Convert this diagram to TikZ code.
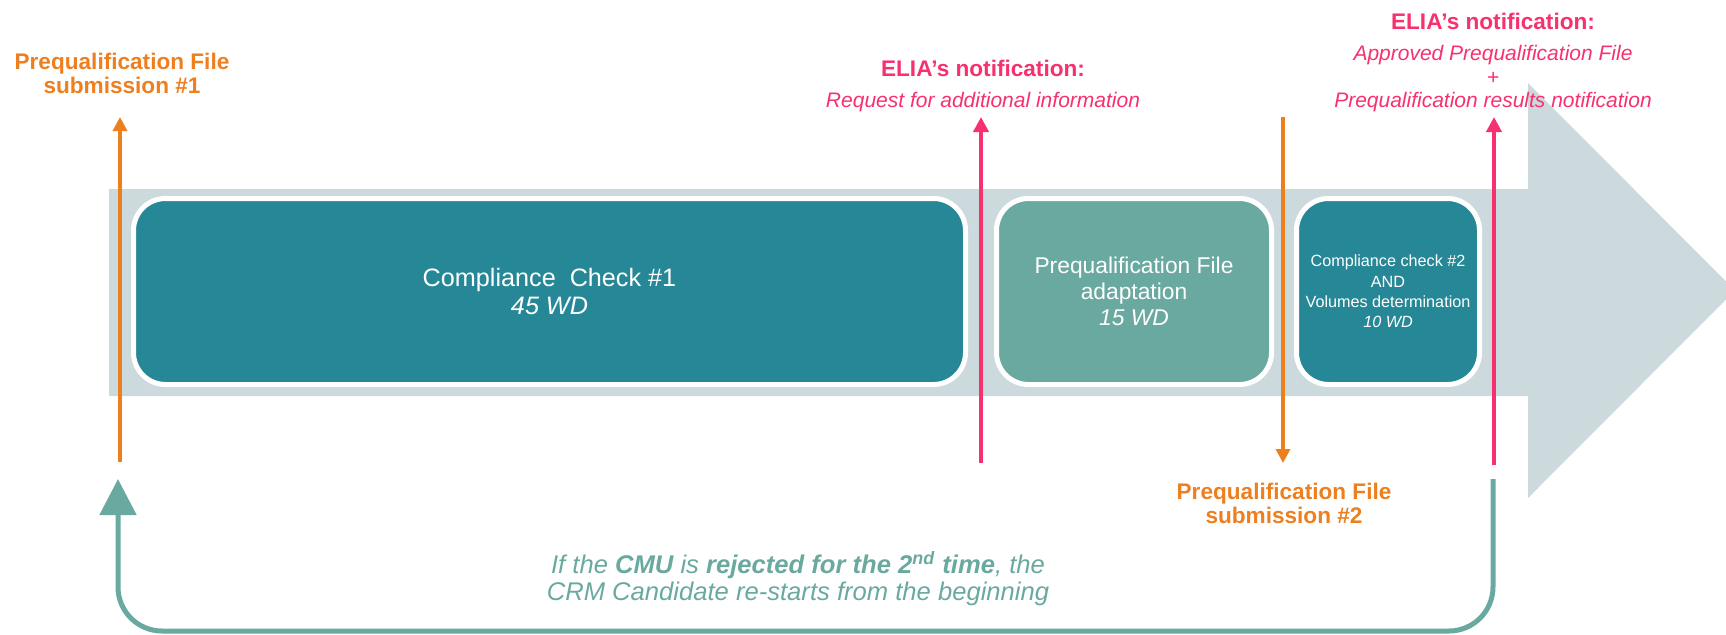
\documentclass[tikz,border=0pt]{standalone}
\usepackage{fontspec}
\setmainfont{Liberation Sans}
\usetikzlibrary{arrows.meta}
\definecolor{orng}{HTML}{EE7F1F}
\definecolor{pnk}{HTML}{F7306F}
\definecolor{tealdark}{HTML}{268896}
\definecolor{teallight}{HTML}{69A99F}
\definecolor{bandgray}{HTML}{CDDADD}
\begin{document}
\begin{tikzpicture}[x=0.5pt,y=-0.5pt,
  box/.style={draw=white, line width=2.5pt, rounded corners=16pt, text=white, align=center, inner sep=0pt},
  orangelabel/.style={text=orng, font=\bfseries\fontsize{11.3pt}{12pt}\selectfont, align=center, inner sep=0pt},
  elia/.style={text=pnk, font=\bfseries\fontsize{11.3pt}{12pt}\selectfont, anchor=base, inner sep=0pt},
  eliasub/.style={text=pnk, font=\itshape\fontsize{10.5pt}{12pt}\selectfont, anchor=base, inner sep=0pt},
  loopnote/.style={text=teallight, font=\itshape\fontsize{12.8pt}{13.5pt}\selectfont, anchor=base, inner sep=0pt},
  oarrow/.style={draw=orng, line width=2pt, -{Triangle[width=7pt,length=7pt]}},
  parrow/.style={draw=pnk, line width=2pt, -{Triangle[width=7.5pt,length=7.5pt]}},
  backloop/.style={draw=teallight, line width=2.5pt, rounded corners=22pt, -{Triangle[width=18pt,length=18pt]}},
]
\useasboundingbox (0,0) rectangle (1726,634);
\clip (0,0) rectangle (1726,634);

% big grey process arrow
\fill[bandgray] (109,189) -- (1528,189) -- (1528,83) -- (1735,290.5) -- (1528,498) -- (1528,396) -- (109,396) -- cycle;

% process boxes
\node[box, fill=tealdark, minimum width=416pt, minimum height=93pt,
      font=\fontsize{12.6pt}{14pt}\selectfont] (cc1) at (549.5,291.5)
      {Compliance\ \ Check \#1\\\itshape 45 WD};
\node[box, fill=teallight, minimum width=137.5pt, minimum height=93pt,
      font=\fontsize{11.4pt}{13pt}\selectfont] (adapt) at (1134,291.5)
      {Prequalification File\\adaptation\\\itshape 15 WD};
\node[box, fill=tealdark, minimum width=91.5pt, minimum height=93pt,
      font=\fontsize{8.1pt}{10.2pt}\selectfont] (cc2) at (1388,291.5)
      {Compliance check \#2\\AND\\Volumes determination\\\itshape 10 WD};

% labels
\node[orangelabel] (sub1) at (122,73) {Prequalification File\\submission \#1};
\node[orangelabel] (sub2) at (1284,503) {Prequalification File\\submission \#2};
\node[elia] (elia1) at (983,76) {ELIA’s notification:};
\node[eliasub] (req) at (983,107) {Request for additional information};
\node[elia] (elia2) at (1493,29) {ELIA’s notification:};
\node[eliasub] (appr) at (1493,60) {Approved Prequalification File};
\node[eliasub] (plus) at (1493,84) {+};
\node[eliasub] (res) at (1493,107) {Prequalification results notification};
\node[loopnote] (note1) at (798,573) {If the \textbf{CMU} is \textbf{rejected for the 2\textsuperscript{nd} time}, the};
\node[loopnote] (note2) at (798,600) {CRM Candidate re-starts from the beginning};

% milestone arrows
\coordinate (o1a) at (120,462); \coordinate (o1b) at (120,117);
\coordinate (p1a) at (981,463); \coordinate (p1b) at (981,117);
\coordinate (o2a) at (1283,117); \coordinate (o2b) at (1283,463);
\coordinate (p2a) at (1494,465); \coordinate (p2b) at (1494,117);
\draw[oarrow] (o1a) -- (o1b);
\draw[parrow] (p1a) -- (p1b);
\draw[oarrow] (o2a) -- (o2b);
\draw[parrow] (p2a) -- (p2b);

% loop back
\coordinate (la) at (1493,479);
\coordinate (lr) at (1493,631);
\coordinate (ll) at (118,631);
\coordinate (lb) at (118,479);
\draw[backloop] (la) -- (lr) -- (ll) -- (lb);
\end{tikzpicture}
\end{document}
